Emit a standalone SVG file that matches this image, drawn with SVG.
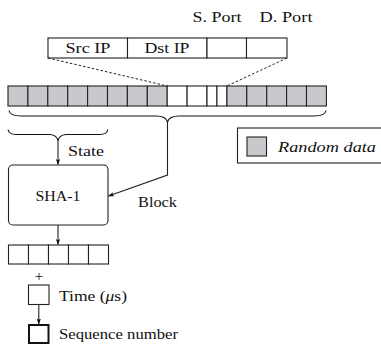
<svg xmlns="http://www.w3.org/2000/svg" width="381" height="344" viewBox="0 0 381 344" font-family="'Liberation Serif', 'Times New Roman', serif">
  <style>
    text { font-family: 'Liberation Serif', 'Times New Roman', serif; font-size: 15px; fill: #111111; }
    .cell { fill: #ffffff; stroke: #222222; stroke-width: 1.1; }
    .rand { fill: #c9c9cd; stroke: #222222; stroke-width: 1.1; }
    .line { fill: none; stroke: #222222; stroke-width: 1.1; }
    .dash { fill: none; stroke: #222222; stroke-width: 1; stroke-dasharray: 2.5 2; }
    .brace { fill: none; stroke: #111111; stroke-width: 1.1; }
  </style>
  <defs>
    <marker id="arr" viewBox="0 0 10 10" refX="9" refY="5" markerWidth="6" markerHeight="6" orient="auto" markerUnits="userSpaceOnUse">
      <path d="M0,1.5 L10,5 L0,8.5 L2,5 Z" fill="#111111"/>
    </marker>
  </defs>

  <!-- header: 5-tuple fields -->
  <g id="tuple">
    <rect class="cell" x="48" y="38" width="79.5" height="20"/>
    <rect class="cell" x="127.5" y="38" width="79.5" height="20"/>
    <rect class="cell" x="207" y="38" width="39.5" height="20"/>
    <rect class="cell" x="246.5" y="38" width="40.5" height="20"/>
    <text x="88" y="53" text-anchor="middle" textLength="45" lengthAdjust="spacingAndGlyphs">Src IP</text>
    <text x="167" y="53" text-anchor="middle" textLength="45" lengthAdjust="spacingAndGlyphs">Dst IP</text>
    <text x="217" y="22" text-anchor="middle" textLength="49" lengthAdjust="spacingAndGlyphs">S. Port</text>
    <text x="286" y="22" text-anchor="middle" textLength="53" lengthAdjust="spacingAndGlyphs">D. Port</text>
  </g>

  <!-- input block: random data with embedded tuple -->
  <g id="block">
    <rect class="rand" x="8" y="86" width="19.9" height="20"/>
    <rect class="rand" x="27.9" y="86" width="19.9" height="20"/>
    <rect class="rand" x="47.8" y="86" width="19.9" height="20"/>
    <rect class="rand" x="67.7" y="86" width="19.9" height="20"/>
    <rect class="rand" x="87.6" y="86" width="19.9" height="20"/>
    <rect class="rand" x="107.5" y="86" width="19.9" height="20"/>
    <rect class="rand" x="127.4" y="86" width="19.9" height="20"/>
    <rect class="rand" x="147.3" y="86" width="19.9" height="20"/>
    <rect class="cell" x="167.2" y="86" width="19.9" height="20"/>
    <rect class="cell" x="187.1" y="86" width="19.9" height="20"/>
    <rect class="cell" x="207" y="86" width="9.95" height="20"/>
    <rect class="cell" x="216.95" y="86" width="9.95" height="20"/>
    <rect class="rand" x="226.9" y="86" width="19.9" height="20"/>
    <rect class="rand" x="246.8" y="86" width="19.9" height="20"/>
    <rect class="rand" x="266.7" y="86" width="19.9" height="20"/>
    <rect class="rand" x="286.6" y="86" width="19.9" height="20"/>
    <rect class="rand" x="306.5" y="86" width="19.9" height="20"/>
    <path class="brace" d="M9,110.5 Q10,116 21,116 L156,116 Q166,116 167.5,122 Q169,116 179,116 L314,116 Q325,116 326,110.5"/>
    <path class="brace" d="M8,129.5 Q9,134.5 16,134.5 L50,134.5 Q57,135 58,141 Q59,135 66,134.5 L100,134.5 Q107,134.5 108,129.5"/>
  </g>

  <!-- hash function -->
  <g id="sha1">
    <rect x="8.5" y="165" width="99.5" height="60" rx="4.5" ry="4.5" fill="#ffffff" stroke="#222222" stroke-width="1.1"/>
    <text x="58" y="201" text-anchor="middle" textLength="45" lengthAdjust="spacingAndGlyphs">SHA-1</text>
  </g>

  <!-- hash output -->
  <g id="digest">
    <rect class="cell" x="8.5" y="245" width="20" height="19"/>
    <rect class="cell" x="28.5" y="245" width="20" height="19"/>
    <rect class="cell" x="48.5" y="245" width="20" height="19"/>
    <rect class="cell" x="68.5" y="245" width="20" height="19"/>
    <rect class="cell" x="88.5" y="245" width="20" height="19"/>
    <text x="39" y="281" text-anchor="middle" font-size="17">+</text>
  </g>

  <g id="time">
    <rect class="cell" x="28.5" y="285" width="20.5" height="19.5"/>
    <text x="59" y="300.5" textLength="68" lengthAdjust="spacingAndGlyphs">Time (<tspan font-style="italic">μ</tspan>s)</text>
  </g>

  <g id="seq">
    <rect x="29" y="325" width="19.5" height="18" fill="#ffffff" stroke="#111111" stroke-width="2"/>
    <text x="59" y="339" textLength="119" lengthAdjust="spacingAndGlyphs">Sequence number</text>
  </g>

  <!-- legend -->
  <g id="legend">
    <rect x="237.5" y="128" width="150" height="35" fill="#ffffff" stroke="#222222" stroke-width="1.1"/>
    <rect class="rand" x="247" y="137" width="19.5" height="19"/>
    <text x="278" y="151.5" font-style="italic" textLength="98" lengthAdjust="spacingAndGlyphs">Random data</text>
  </g>

  <!-- connectors -->
  <g id="connectors">
    <line class="dash" x1="48" y1="58" x2="167.2" y2="86"/>
    <line class="dash" x1="287" y1="58" x2="226.9" y2="86"/>
    <line class="line" x1="58" y1="141" x2="58" y2="164.5" marker-end="url(#arr)"/>
    <text x="68" y="155.5" textLength="36" lengthAdjust="spacingAndGlyphs">State</text>
    <polyline class="line" points="167.5,122 167.5,175 108.5,196" marker-end="url(#arr)"/>
    <text x="138" y="206.5" textLength="39" lengthAdjust="spacingAndGlyphs">Block</text>
    <line class="line" x1="58" y1="225" x2="58" y2="244.5" marker-end="url(#arr)"/>
    <line class="line" x1="38.8" y1="304.5" x2="38.8" y2="324" marker-end="url(#arr)"/>
  </g>
</svg>
